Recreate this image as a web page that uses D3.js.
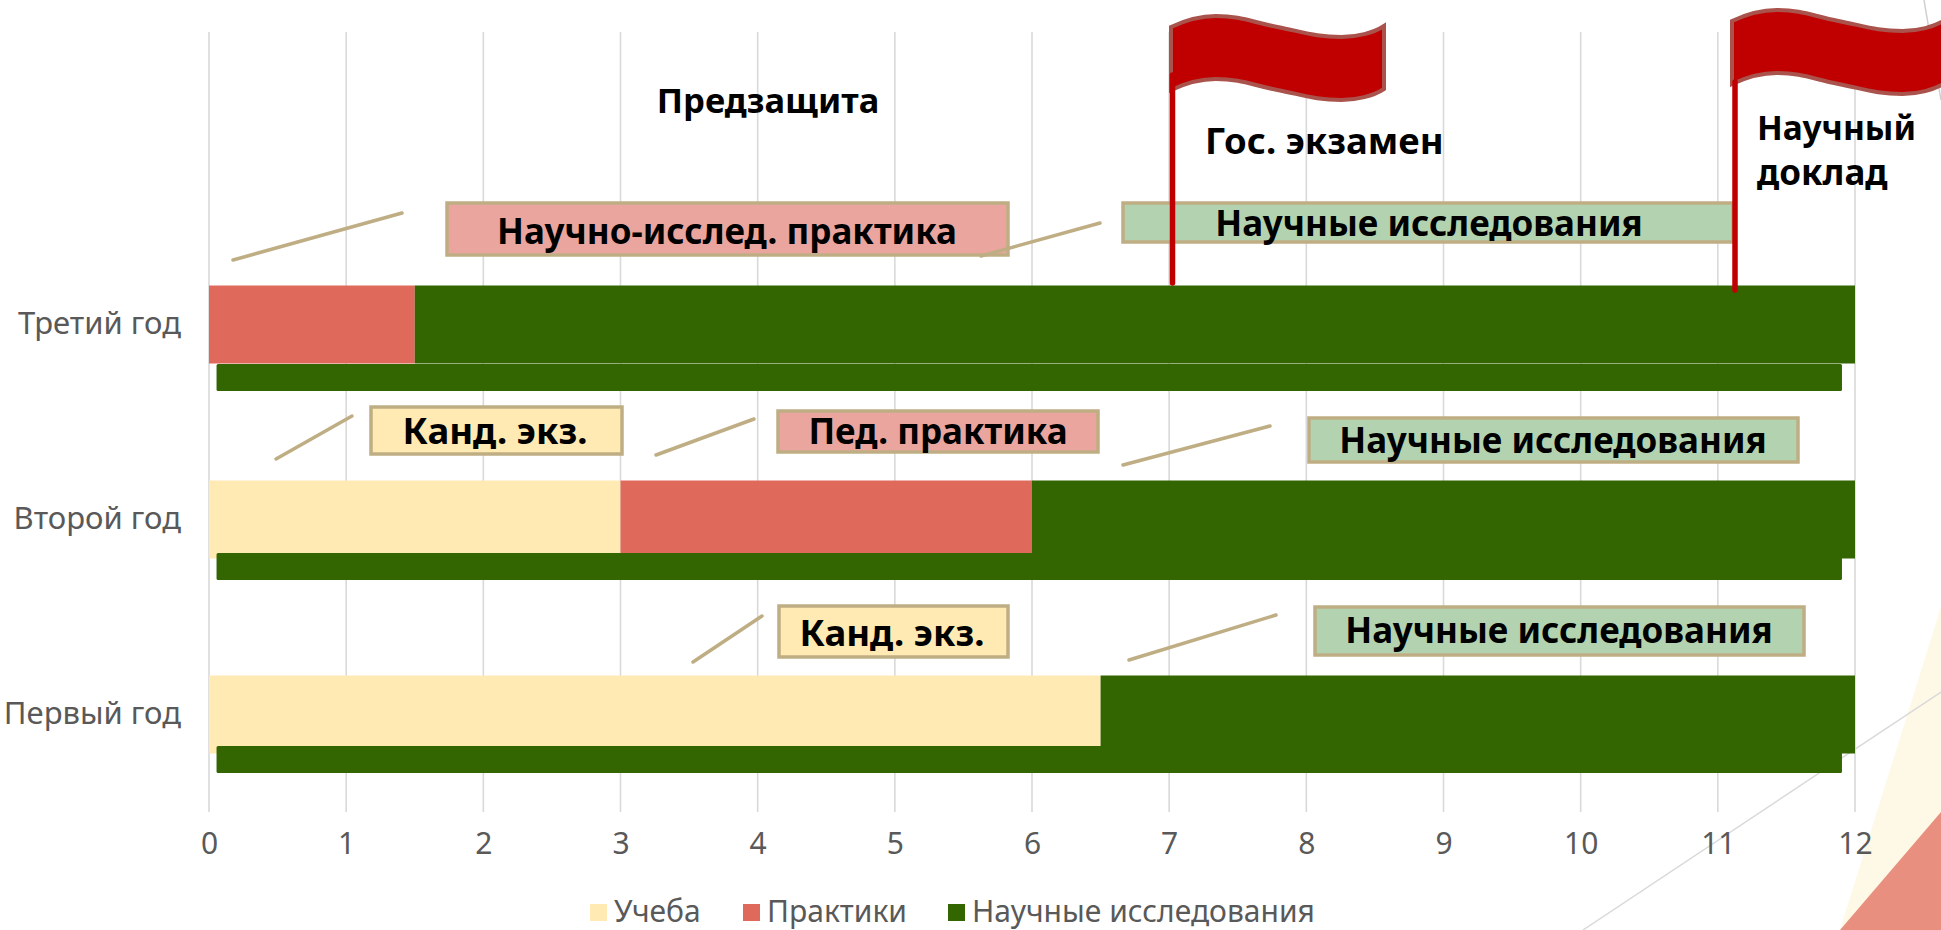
<!DOCTYPE html>
<html>
<head>
<meta charset="utf-8">
<script src="https://cdn.jsdelivr.net/npm/d3@7"></script>
<style>
    html, body { margin: 0; padding: 0; background: #fff; overflow: hidden; }
    svg { display: block; font-family: "Noto Sans", sans-serif; }
    .tick-label { fill: #595959; font-size: 30px; font-family: "Noto Sans", sans-serif; }
    .y-label { font-size: 31px; }
    .callout-text { fill: #000; font-size: 35px; font-weight: 700; }
</style>
</head>
<body>
<div id="chart"></div>
<script>
// data, in months
const years = ["", "Третий год", "Второй год", "Первый год"];
const seriesNames = ["Учеба", "Практики", "Научные исследования"];
const study = [0, 0, 3, 6.5];
const practice = [0, 1.5, 3, 0];
const research = [0, 10.5, 6, 5.5];
const monthTicks = [0, 1, 2, 3, 4, 5, 6, 7, 8, 9, 10, 11, 12];

// the thin bar drawn under each year
const underBarYears = ["Третий год", "Второй год", "Первый год"];
const underBarStart = [0.055, 0.055, 0.055];
const underBarEnd = [11.905, 11.905, 11.905];

const colors = { "Учеба": "#ffeab3", "Практики": "#df6a5c", "Научные исследования": "#336600" };

const width = 1941, height = 930;
const margin = { top: 32, right: 86, bottom: 118, left: 209 };

const svg = d3.select("#chart").append("svg")
    .attr("width", width)
    .attr("height", height);

// slide background shapes
svg.append("polygon").attr("points", "1840,930 1941,607 1941,930").attr("fill", "#fef8e6");
svg.append("polygon").attr("points", "1840,930 1941,812 1941,930").attr("fill", "#e88f80");
svg.append("line").attr("x1", 1583).attr("y1", 930).attr("x2", 1941).attr("y2", 692)
    .attr("stroke", "#d9d9d9").attr("stroke-width", 1.5);
svg.append("line").attr("x1", 1924).attr("y1", 0).attr("x2", 1941).attr("y2", 100)
    .attr("stroke", "#d0d0d0").attr("stroke-width", 1.5);

// scales
const x = d3.scaleLinear()
    .domain([0, 12])
    .range([margin.left, width - margin.right]);

const y = d3.scaleBand()
    .domain(years)
    .range([margin.top, height - margin.bottom])
    .paddingInner(0.6)
    .paddingOuter(0.3);

// axes
const xAxisG = svg.append("g")
    .attr("transform", `translate(0, ${height - margin.bottom})`)
    .call(d3.axisBottom(x).tickValues(monthTicks).tickSize(0).tickPadding(21));
xAxisG.select(".domain").remove();
xAxisG.selectAll("text").attr("class", "tick-label").attr("fill", null);

// gridlines
svg.append("g").selectAll("line")
    .data(monthTicks)
    .join("line")
    .attr("x1", d => x(d))
    .attr("x2", d => x(d))
    .attr("y1", margin.top)
    .attr("y2", height - margin.bottom)
    .attr("stroke", "#d9d9d9")
    .attr("stroke-width", 1.6);

const yAxisG = svg.append("g")
    .attr("transform", `translate(${margin.left}, 0)`)
    .call(d3.axisLeft(y).tickSize(0).tickPadding(28));
yAxisG.select(".domain").remove();
yAxisG.selectAll("text").attr("class", "tick-label y-label").attr("fill", null);

// stacked bars
const rows = years.map((year, i) => ({
    year: year,
    "Учеба": study[i],
    "Практики": practice[i],
    "Научные исследования": research[i]
}));
const series = d3.stack().keys(seriesNames)(rows);

svg.append("g").selectAll("g")
    .data(series)
    .join("g")
    .attr("fill", d => colors[d.key])
    .selectAll("rect")
    .data(d => d)
    .join("rect")
    .attr("x", d => x(d[0]))
    .attr("y", d => y(d.data.year))
    .attr("width", d => x(d[1]) - x(d[0]))
    .attr("height", y.bandwidth());

// under bars, they sit a bit differently on each row
const underTop = [364, 553, 746];
svg.append("g").selectAll("rect")
    .data(underBarYears)
    .join("rect")
    .attr("x", (d, i) => x(underBarStart[i]))
    .attr("y", (d, i) => underTop[i])
    .attr("width", (d, i) => x(underBarEnd[i]) - x(underBarStart[i]))
    .attr("height", 27)
    .attr("rx", 1.5)
    .attr("fill", colors["Научные исследования"]);

// callouts: box + leader line, positions are slide shapes
const callouts = [
    { text: "Научно-исслед. практика", fill: "#eaa69e", box: [447, 203, 1008, 255], line: [233, 260, 402, 213], tx: 727, ty: 232, size: 35 },
    { text: "Научные исследования", fill: "#b3d3b0", box: [1123, 203, 1733, 242], line: [981, 256, 1100, 223], tx: 1429, ty: 224, size: 35 },
    { text: "Канд. экз.", fill: "#ffeab3", box: [371, 407, 622, 454], line: [276, 459, 352, 416], tx: 495, ty: 431, size: 36.5 },
    { text: "Пед. практика", fill: "#eaa69e", box: [778, 411, 1098, 452], line: [656, 455, 754, 419], tx: 938, ty: 432, size: 35 },
    { text: "Научные исследования", fill: "#b3d3b0", box: [1309, 418, 1798, 462], line: [1123, 465, 1270, 426], tx: 1553, ty: 441, size: 35 },
    { text: "Канд. экз.", fill: "#ffeab3", box: [779, 606, 1008, 657], line: [693, 662, 762, 616], tx: 892, ty: 633, size: 36.5 },
    { text: "Научные исследования", fill: "#b3d3b0", box: [1315, 607, 1804, 655], line: [1129, 660, 1276, 615], tx: 1559, ty: 631, size: 35 }
];

const calloutG = svg.append("g").selectAll("g")
    .data(callouts)
    .join("g");

calloutG.append("rect")
    .attr("x", d => d.box[0])
    .attr("y", d => d.box[1])
    .attr("width", d => d.box[2] - d.box[0])
    .attr("height", d => d.box[3] - d.box[1])
    .attr("fill", d => d.fill)
    .attr("stroke", "#bfae84")
    .attr("stroke-width", 3.5);

calloutG.append("line")
    .attr("x1", d => d.line[0])
    .attr("y1", d => d.line[1])
    .attr("x2", d => d.line[2])
    .attr("y2", d => d.line[3])
    .attr("stroke", "#bfae84")
    .attr("stroke-width", 3.5)
    .attr("stroke-linecap", "round");

calloutG.append("text")
    .attr("class", "callout-text")
    .attr("x", d => d.tx)
    .attr("y", d => d.ty)
    .attr("dy", "0.35em")
    .attr("text-anchor", "middle")
    .style("font-size", d => d.size + "px")
    .text(d => d.text);

// plain labels
const plainLabels = [
    { text: "Предзащита", x: 768, y: 101, anchor: "middle", size: 34.5 },
    { text: "Гос. экзамен", x: 1205, y: 141, anchor: "start", size: 36.5 },
    { text: "Научный", x: 1757, y: 128, anchor: "start", size: 33.5 },
    { text: "доклад", x: 1757, y: 173, anchor: "start", size: 35 }
];
svg.append("g").selectAll("text")
    .data(plainLabels)
    .join("text")
    .attr("class", "callout-text")
    .attr("x", d => d.x)
    .attr("y", d => d.y)
    .attr("dy", "0.35em")
    .attr("text-anchor", d => d.anchor)
    .style("font-size", d => d.size + "px")
    .text(d => d.text);

// flags, one wave along the top edge and the same along the bottom
function waveEdge(l, t, w) {
    return `C${l + w * 0.07},${t + 4} ${l + w * 0.14},${t} ${l + w * 0.21},${t}` +
        `C${l + w * 0.33},${t} ${l + w * 0.38},${t + 6} ${l + w * 0.5},${t + 11}` +
        `C${l + w * 0.62},${t + 16} ${l + w * 0.68},${t + 21} ${l + w * 0.8},${t + 21}` +
        `C${l + w * 0.87},${t + 21} ${l + w * 0.95},${t + 17} ${l + w},${t + 10}`;
}
function flagPath(l, t, w, h) {
    return `M${l},${t + 11}` + waveEdge(l, t, w) +
        `L${l + w},${t + 10 + h}` +
        `C${l + w * 0.95},${t + 17 + h} ${l + w * 0.87},${t + 21 + h} ${l + w * 0.8},${t + 21 + h}` +
        `C${l + w * 0.68},${t + 21 + h} ${l + w * 0.62},${t + 16 + h} ${l + w * 0.5},${t + 11 + h}` +
        `C${l + w * 0.38},${t + 6 + h} ${l + w * 0.33},${t + h} ${l + w * 0.21},${t + h}` +
        `C${l + w * 0.14},${t + h} ${l + w * 0.07},${t + 4 + h} ${l},${t + 11 + h}Z`;
}
const flags = [
    { left: 1171, top: 16, pole: 1172.5, poleTop: 75, poleBottom: 283 },
    { left: 1732, top: 10, pole: 1735, poleTop: 82, poleBottom: 290 }
];
const flagG = svg.append("g").selectAll("g")
    .data(flags)
    .join("g");
flagG.append("path")
    .attr("d", d => flagPath(d.left, d.top, 213, 63))
    .attr("fill", "#c00000")
    .attr("stroke", "#a9534c")
    .attr("stroke-width", 4);
flagG.append("line")
    .attr("x1", d => d.pole)
    .attr("x2", d => d.pole)
    .attr("y1", d => d.poleTop)
    .attr("y2", d => d.poleBottom)
    .attr("stroke", "#c00000")
    .attr("stroke-width", 5.5)
    .attr("stroke-linecap", "round");

// legend
const legendX = [590, 743, 948];
const legendG = svg.append("g").selectAll("g")
    .data(seriesNames)
    .join("g")
    .attr("transform", (d, i) => `translate(${legendX[i]}, 904)`);
legendG.append("rect")
    .attr("width", 17)
    .attr("height", 17)
    .attr("fill", d => colors[d]);
legendG.append("text")
    .attr("class", "tick-label")
    .attr("x", 24)
    .attr("y", 18)
    .text(d => d);
</script>
</body>
</html>
